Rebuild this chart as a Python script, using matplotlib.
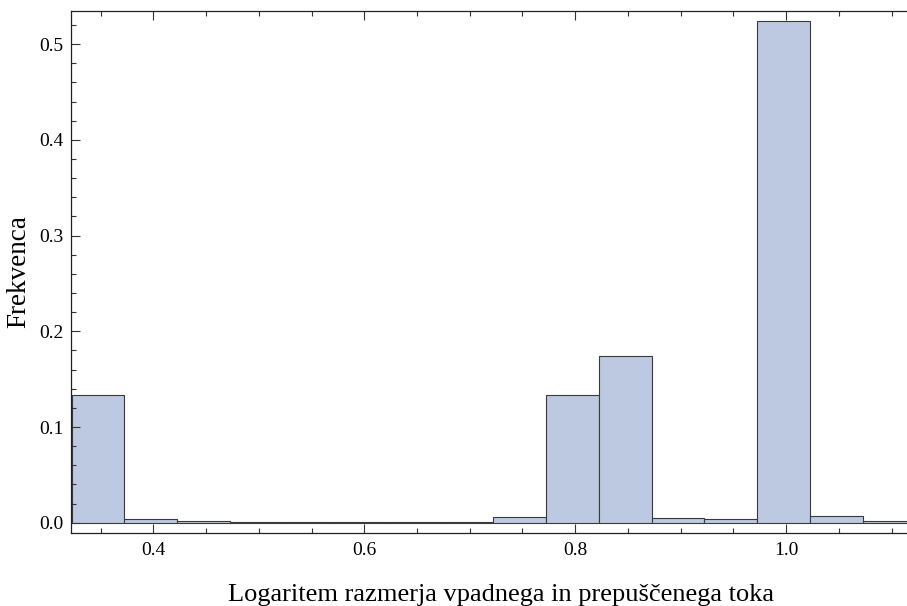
import numpy as np
import matplotlib
matplotlib.use("Agg")
import matplotlib.pyplot as plt
from matplotlib.ticker import MultipleLocator

# ------------------------
# Podatki (odčitano s slike)
# ------------------------
bin_start = 0.3225
bin_width = 0.05
frekvence = [0.1337, 0.0042, 0.0014, 0.0004, 0.0004, 0.0010, 0.0004, 0.0004,
             0.0056, 0.1337, 0.1739, 0.0052, 0.0042, 0.5246, 0.0067, 0.0018]
x_ticks = [0.4, 0.6, 0.8, 1.0]
x_tick_labels = ["0.4", "0.6", "0.8", "1.0"]
y_ticks = [0.0, 0.1, 0.2, 0.3, 0.4, 0.5]
y_tick_labels = ["0.0", "0.1", "0.2", "0.3", "0.4", "0.5"]

levi_robovi = bin_start + bin_width * np.arange(len(frekvence))

plt.rcParams['font.family'] = ['Liberation Serif', 'DejaVu Serif']

fig = plt.figure(figsize=(9.07, 6.06), dpi=100)
ax = fig.add_axes([70.7 / 907, (606 - 532.7) / 606, 1 - 70.7 / 907, (532.7 - 10.7) / 606])

ax.bar(levi_robovi, frekvence, width=bin_width, align='edge',
       color='#bcc9e1', edgecolor='#3a3a3a', linewidth=0.8)

ax.set_xlim(0.3216, 1.1146)
ax.set_ylim(-0.0104, 0.535)

ax.set_xticks(x_ticks)
ax.set_xticklabels(x_tick_labels)
ax.set_yticks(y_ticks)
ax.set_yticklabels(y_tick_labels)
ax.xaxis.set_minor_locator(MultipleLocator(0.05))
ax.yaxis.set_minor_locator(MultipleLocator(0.02))

ax.tick_params(which='both', direction='in', top=True, right=False,
               color='#333333', width=0.8, labelsize=14)
ax.tick_params(which='major', length=6.2)
ax.tick_params(which='minor', length=3.8)
ax.tick_params(axis='x', pad=7)
ax.tick_params(axis='y', pad=5)

for s in ['left', 'top', 'bottom']:
    ax.spines[s].set_linewidth(0.9)
    ax.spines[s].set_color('#222222')
ax.spines['right'].set_visible(False)

ax.set_xlabel("Logaritem razmerja vpadnega in prepuščenega toka", fontsize=19, labelpad=18)
ax.xaxis.label.set_x(0.5145)
ax.set_ylabel("Frekvenca", fontsize=19.5, labelpad=6)

fig.savefig("out.png", dpi=100)
